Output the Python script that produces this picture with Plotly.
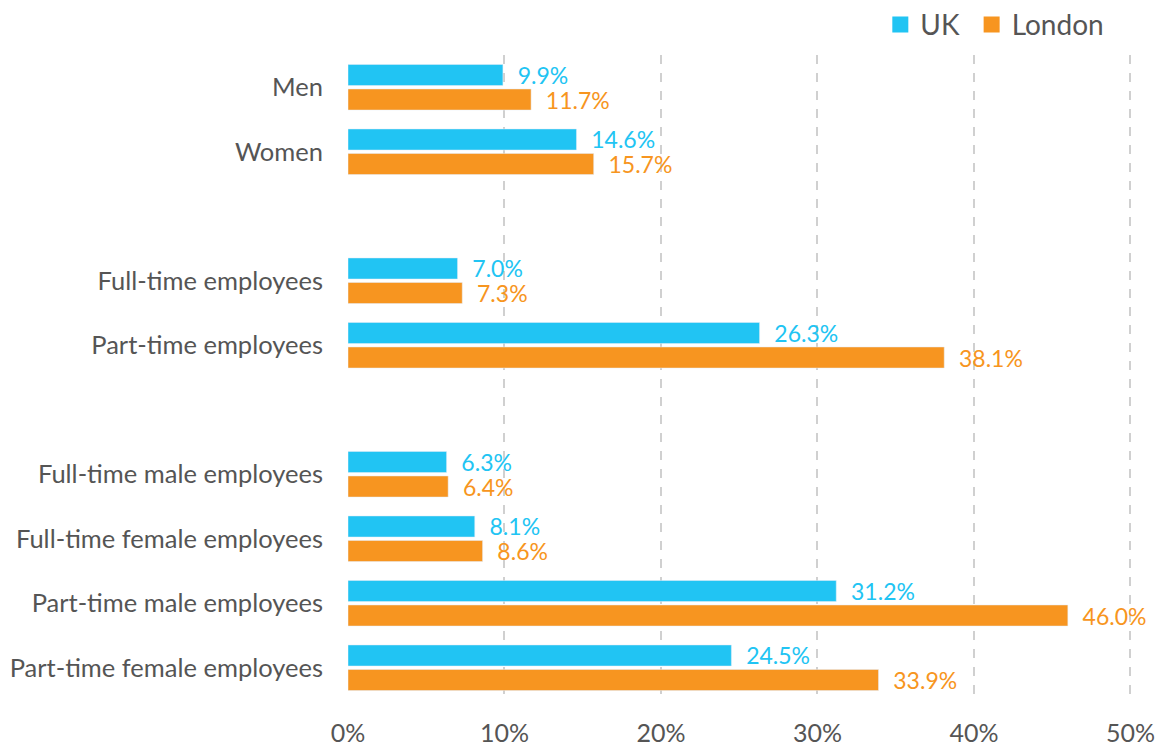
import plotly.graph_objects as go

categories = ["Men", "Women", " ", "Full-time employees", "Part-time employees", "  ",
              "Full-time male employees", "Full-time female employees",
              "Part-time male employees", "Part-time female employees"]
uk = [9.9, 14.6, None, 7.0, 26.3, None, 6.3, 8.1, 31.2, 24.5]
london = [11.7, 15.7, None, 7.3, 38.1, None, 6.4, 8.6, 46.0, 33.9]
x_ticks = [0, 10, 20, 30, 40, 50]
x_tick_labels = ["0%", "10%", "20%", "30%", "40%", "50%"]

UK_COLOR = "#21C4F3"
LDN_COLOR = "#F79520"
FONT = "Lato"
PAD = "\u00a0\u00a0"

def labels(vals):
    return [("" if v is None else f"{PAD}{v:.1f}%") for v in vals]

fig = go.Figure()
for name, vals, col in [("UK", uk, UK_COLOR), ("London", london, LDN_COLOR)]:
    fig.add_trace(go.Bar(
        y=categories, x=vals, name=name, orientation="h",
        marker=dict(color=col), showlegend=False,
        text=labels(vals), textposition="outside", constraintext="none",
        textfont=dict(color=col, size=23, family=FONT),
        cliponaxis=False,
    ))
# legend entries with large square swatches
for name, col in [("UK", UK_COLOR), ("London", LDN_COLOR)]:
    fig.add_trace(go.Scatter(
        x=[None], y=[None], mode="markers", name=name + "\u00a0",
        marker=dict(symbol="square", size=20, color=col),
        showlegend=True,
    ))

fig.update_layout(
    width=1166, height=747,
    margin=dict(l=348, r=34, t=55, b=47, autoexpand=False),
    paper_bgcolor="white", plot_bgcolor="white",
    barmode="group", bargap=0.24, bargroupgap=0.14,
    font=dict(family=FONT, color="#555555"),
    legend=dict(orientation="h", x=0.98, xanchor="right", y=1.047, yanchor="middle",
                font=dict(size=28, family=FONT), itemclick=False,
                traceorder="normal", tracegroupgap=0),
)
fig.update_xaxes(
    range=[0, 50.1], tickvals=x_ticks, ticktext=x_tick_labels,
    showgrid=True, gridcolor="#D0D0D0", griddash="dash", gridwidth=1.5,
    zeroline=False, showline=False, ticks="",
    tickfont=dict(size=25, family=FONT, color="#555555"),
    ticklabelstandoff=16,
)
fig.update_yaxes(
    autorange="reversed", showgrid=False, showline=False, ticks="",
    tickfont=dict(size=25.5, family=FONT, color="#555555"),
    ticklabelstandoff=24,
)

fig.write_html(
    "out.html",
    config={"displayModeBar": False},
    post_script="document.body.style.margin='0';document.body.style.overflow='hidden';",
)
